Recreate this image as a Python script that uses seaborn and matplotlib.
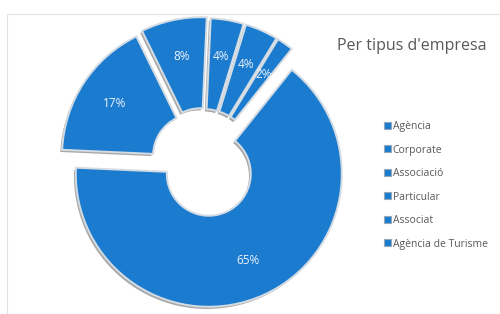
import matplotlib
matplotlib.use("Agg")
import matplotlib.pyplot as plt
import matplotlib.patheffects as pe
import seaborn as sns

# data
categories = ["Agència", "Corporate", "Associació", "Particular", "Associat", "Agència de Turisme"]
shares = [65, 17, 8, 4, 4, 2]
explode = [14, 9.5, 11, 10, 10, 10]   # in pixels, since the pie is drawn in pixel units
title = "Per tipus d'empresa"

sns.set_theme(style="white")
plt.rcParams["font.family"] = ["Open Sans", "DejaVu Sans"]

blue = "#1b7bcf"
grey_text = "#595959"

fig = plt.figure(figsize=(5.0, 3.14), dpi=100)
ax = fig.add_axes([0, 0, 1, 1])

wedges, _, autotexts = ax.pie(
    shares,
    colors=[blue] * len(shares),
    explode=explode,
    startangle=51.4,
    counterclock=False,
    radius=133,
    center=(203, 153),
    autopct="%1.0f%%",
    pctdistance=0.72,
    wedgeprops=dict(width=91, edgecolor="#d3dbe3", linewidth=1.4),
    textprops=dict(color="#eef4fb", fontsize=8.5),
)
for w in wedges:
    w.set_path_effects([
        pe.SimplePatchShadow(offset=(-1.3, -1.6), shadow_rgbFace="#6e6e6e", alpha=0.6),
        pe.Normal(),
    ])

ax.set_xlim(0, 500)
ax.set_ylim(0, 314)
ax.set_aspect("equal")
ax.axis("off")

# chart frame (only top and left edges visible in the crop)
fig.add_artist(plt.Rectangle((7 / 500, -0.1), 1.2, 1 - 14 / 314 + 0.1,
                             transform=fig.transFigure, fill=False,
                             edgecolor="#e2e2e2", linewidth=0.8))

fig.text(337 / 500, 1 - 46 / 314, title, ha="left", va="center",
         fontsize=11.5, color=grey_text)

leg = fig.legend(wedges, categories, loc="upper left",
                 bbox_to_anchor=(384 / 500, 1 - 121 / 314),
                 frameon=False, fontsize=7.5, labelspacing=1.2,
                 handlelength=0.65, handleheight=0.65, handletextpad=0.2,
                 borderpad=0, borderaxespad=0)
for h in leg.legend_handles:
    h.set_path_effects([])
    h.set_edgecolor("#8fa6bb")
    h.set_linewidth(0.8)
for t in leg.get_texts():
    t.set_color(grey_text)

fig.savefig("out.png", dpi=100)
